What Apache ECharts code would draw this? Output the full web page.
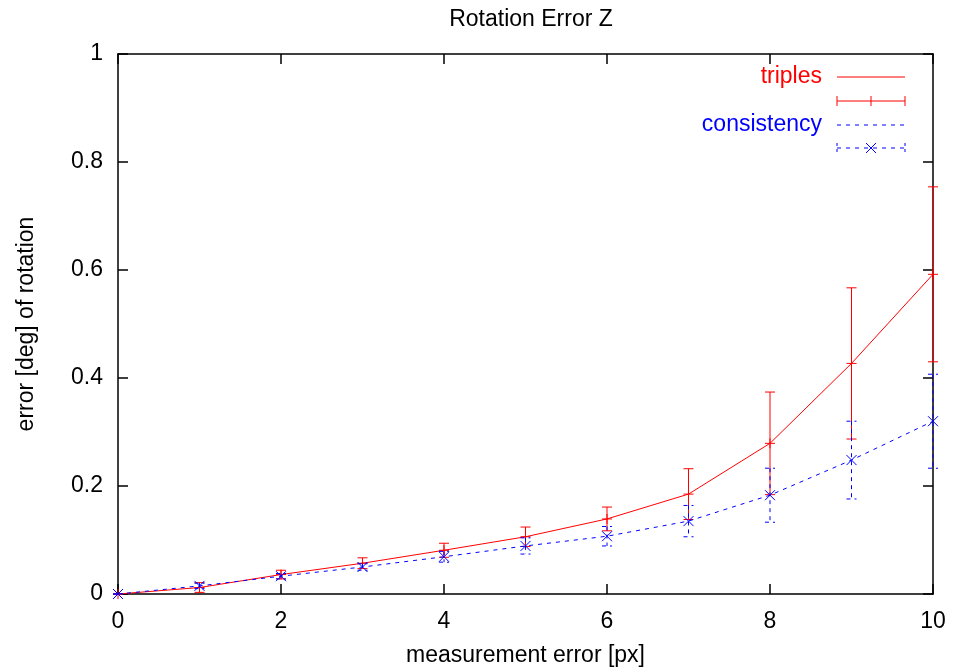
<!DOCTYPE html>
<html>
<head>
<meta charset="utf-8">
<script src="https://cdn.jsdelivr.net/npm/echarts@6/dist/echarts.min.js"></script>
<style>html,body{margin:0;padding:0;background:#fff;}#c{width:953px;height:672px;}</style>
</head>
<body>
<div id="c"></div>
<script>
const xValues = [0, 1, 2, 3, 4, 5, 6, 7, 8, 9, 10];
const triplesMean = [0, 0.012, 0.036, 0.057, 0.081, 0.106, 0.139, 0.185, 0.279, 0.427, 0.592];
const triplesErr  = [0, 0.009, 0.008, 0.010, 0.013, 0.018, 0.022, 0.047, 0.095, 0.140, 0.162];
const consMean = [0, 0.015, 0.033, 0.050, 0.069, 0.089, 0.107, 0.135, 0.183, 0.248, 0.320];
const consErr  = [0, 0.005, 0.005, 0.006, 0.010, 0.015, 0.018, 0.029, 0.050, 0.072, 0.087];
const xTicks = [0, 2, 4, 6, 8, 10];
const yTicks = [0, 0.2, 0.4, 0.6, 0.8, 1];

const FONT = 'Liberation Sans, Arial, Helvetica, sans-serif';
const FS = 23;
const RED = '#ff0000';
const BLUE = '#0000ff';

const chart = echarts.init(document.getElementById('c'), null, {renderer: 'canvas'});

function linePts(xs, ys) { return xs.map((x, i) => [x, ys[i]]); }
function errPts(xs, ys, es) { return xs.map((x, i) => [x, ys[i], es[i]]); }

function makeErrRender(color, dashed, marker) {
  return function (params, api) {
    const x = api.value(0), v = api.value(1), e = api.value(2);
    const top = api.coord([x, v + e]);
    const bot = api.coord([x, v - e]);
    const mid = api.coord([x, v]);
    const mk = function () {
      const s = {stroke: color, lineWidth: 1};
      if (dashed) s.lineDash = [4, 4];
      return s;
    };
    const c = 5;
    const children = [
      {type: 'line', shape: {x1: top[0], y1: top[1], x2: bot[0], y2: bot[1]}, style: mk()},
      {type: 'line', shape: {x1: top[0] - c, y1: top[1], x2: top[0] + c, y2: top[1]}, style: mk()},
      {type: 'line', shape: {x1: bot[0] - c, y1: bot[1], x2: bot[0] + c, y2: bot[1]}, style: mk()}
    ];
    if (marker === 'plus') {
      children.push({type: 'line', shape: {x1: mid[0] - c, y1: mid[1], x2: mid[0] + c, y2: mid[1]}, style: {stroke: color, lineWidth: 1}});
      children.push({type: 'line', shape: {x1: mid[0], y1: mid[1] - c, x2: mid[0], y2: mid[1] + c}, style: {stroke: color, lineWidth: 1}});
    } else {
      children.push({type: 'line', shape: {x1: mid[0] - c, y1: mid[1] - c, x2: mid[0] + c, y2: mid[1] + c}, style: {stroke: color, lineWidth: 1}});
      children.push({type: 'line', shape: {x1: mid[0] - c, y1: mid[1] + c, x2: mid[0] + c, y2: mid[1] - c}, style: {stroke: color, lineWidth: 1}});
    }
    return {type: 'group', children: children};
  };
}

function axisLine() { return {show: true, onZero: false, lineStyle: {color: '#000', width: 1.5}}; }
function tickIn() { return {show: true, inside: true, length: 10, lineStyle: {color: '#000', width: 1.5}}; }

// legend (gnuplot-style key) via graphic
const LX1 = 837, LX2 = 905, LMID = 871, LTX = 822;
const rows = [77, 101, 125, 148];
const legendGraphics = [
  {type: 'text', x: LTX, y: rows[0], style: {text: 'triples', fill: RED, font: FS + 'px ' + FONT, textAlign: 'right', textVerticalAlign: 'middle'}},
  {type: 'line', shape: {x1: LX1, y1: rows[0], x2: LX2, y2: rows[0]}, style: {stroke: RED, lineWidth: 1}},
  {type: 'line', shape: {x1: LX1, y1: rows[1], x2: LX2, y2: rows[1]}, style: {stroke: RED, lineWidth: 1}},
  {type: 'line', shape: {x1: LX1, y1: rows[1] - 5, x2: LX1, y2: rows[1] + 5}, style: {stroke: RED, lineWidth: 1}},
  {type: 'line', shape: {x1: LX2, y1: rows[1] - 5, x2: LX2, y2: rows[1] + 5}, style: {stroke: RED, lineWidth: 1}},
  {type: 'line', shape: {x1: LMID, y1: rows[1] - 5, x2: LMID, y2: rows[1] + 5}, style: {stroke: RED, lineWidth: 1}},
  {type: 'text', x: LTX, y: rows[2], style: {text: 'consistency', fill: BLUE, font: FS + 'px ' + FONT, textAlign: 'right', textVerticalAlign: 'middle'}},
  {type: 'line', shape: {x1: LX1, y1: rows[2], x2: LX2, y2: rows[2]}, style: {stroke: BLUE, lineWidth: 1, lineDash: [4, 5]}},
  {type: 'line', shape: {x1: LX1, y1: rows[3], x2: LX2, y2: rows[3]}, style: {stroke: BLUE, lineWidth: 1, lineDash: [4, 5]}},
  {type: 'line', shape: {x1: LX1, y1: rows[3] - 5, x2: LX1, y2: rows[3] + 5}, style: {stroke: BLUE, lineWidth: 1, lineDash: [3, 3]}},
  {type: 'line', shape: {x1: LX2, y1: rows[3] - 5, x2: LX2, y2: rows[3] + 5}, style: {stroke: BLUE, lineWidth: 1, lineDash: [3, 3]}},
  {type: 'line', shape: {x1: LMID - 5, y1: rows[3] - 5, x2: LMID + 5, y2: rows[3] + 5}, style: {stroke: BLUE, lineWidth: 1}},
  {type: 'line', shape: {x1: LMID - 5, y1: rows[3] + 5, x2: LMID + 5, y2: rows[3] - 5}, style: {stroke: BLUE, lineWidth: 1}}
];

const option = {
  animation: false,
  backgroundColor: '#fff',
  title: {
    text: 'Rotation Error Z',
    left: 526, top: 3, textAlign: 'center',
    textStyle: {fontFamily: FONT, fontSize: FS, fontWeight: 'normal', color: '#000'}
  },
  grid: {left: 118, right: 20, top: 54, bottom: 77, containLabel: false},
  xAxis: [
    {
      type: 'value', min: 0, max: 10, interval: 2, position: 'bottom', gridIndex: 0,
      name: 'measurement error [px]', nameLocation: 'middle', nameGap: 50,
      nameTextStyle: {fontFamily: FONT, fontSize: FS, color: '#000'},
      axisLine: axisLine(), axisTick: tickIn(),
      axisLabel: {fontFamily: FONT, fontSize: FS, color: '#000', margin: 16},
      splitLine: {show: false}
    },
    {
      type: 'value', min: 0, max: 10, interval: 2, position: 'top', gridIndex: 0,
      axisLine: axisLine(), axisTick: tickIn(), axisLabel: {show: false}, splitLine: {show: false}
    }
  ],
  yAxis: [
    {
      type: 'value', min: 0, max: 1, interval: 0.2, position: 'left', gridIndex: 0,
      name: 'error [deg] of rotation', nameLocation: 'middle', nameGap: 80, nameRotate: 90,
      nameTextStyle: {fontFamily: FONT, fontSize: FS, color: '#000'},
      axisLine: axisLine(), axisTick: tickIn(),
      axisLabel: {fontFamily: FONT, fontSize: FS, color: '#000', margin: 15},
      splitLine: {show: false}
    },
    {
      type: 'value', min: 0, max: 1, interval: 0.2, position: 'right', gridIndex: 0,
      axisLine: axisLine(), axisTick: tickIn(), axisLabel: {show: false}, splitLine: {show: false}
    }
  ],
  graphic: legendGraphics,
  series: [
    {
      name: 'triples', type: 'line', data: linePts(xValues, triplesMean),
      showSymbol: false, symbol: 'none', lineStyle: {color: RED, width: 1}, z: 3
    },
    {
      name: 'triples err', type: 'custom', data: errPts(xValues, triplesMean, triplesErr),
      renderItem: makeErrRender(RED, false, 'plus'), encode: {x: 0, y: 1}, clip: false, z: 4
    },
    {
      name: 'consistency', type: 'line', data: linePts(xValues, consMean),
      showSymbol: false, symbol: 'none', lineStyle: {color: BLUE, width: 1, type: [4, 5]}, z: 5
    },
    {
      name: 'consistency err', type: 'custom', data: errPts(xValues, consMean, consErr),
      renderItem: makeErrRender(BLUE, true, 'cross'), encode: {x: 0, y: 1}, clip: false, z: 6
    }
  ]
};
chart.setOption(option);
</script>
</body>
</html>
